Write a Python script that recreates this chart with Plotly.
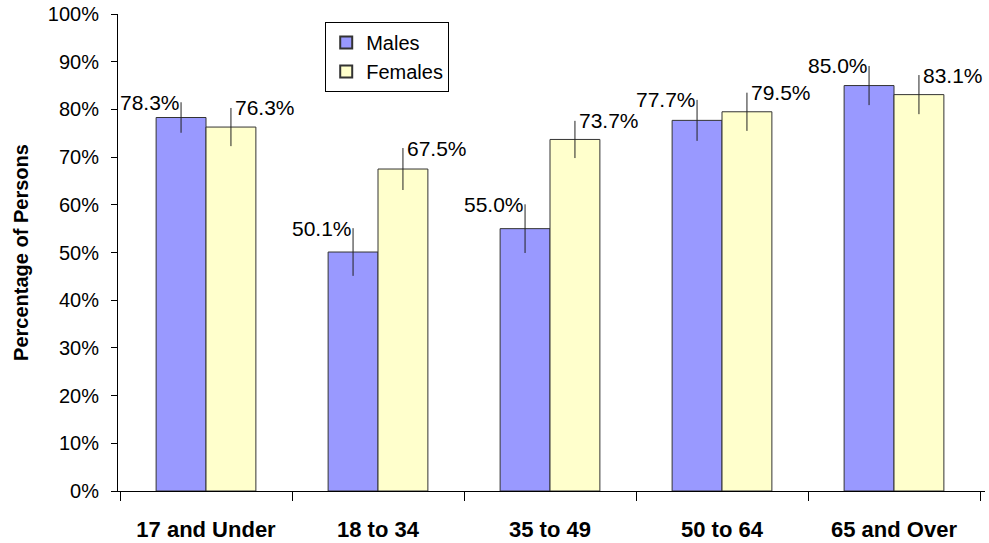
import plotly.graph_objects as go

categories = ["17 and Under", "18 to 34", "35 to 49", "50 to 64", "65 and Over"]
males = [78.3, 50.1, 55.0, 77.7, 85.0]
females = [76.3, 67.5, 73.7, 79.5, 83.1]
males_err = [3.2, 5.0, 5.1, 4.3, 4.1]
females_err = [4.0, 4.4, 3.9, 4.0, 4.1]
y_ticks = [0, 10, 20, 30, 40, 50, 60, 70, 80, 90, 100]
y_ticktext = [f"{v}%" for v in y_ticks]

FONT = "Liberation Sans, Arial, sans-serif"
MALE_COLOR = "#9999FF"
FEMALE_COLOR = "#FFFFCC"
EDGE = "#333333"

fig = go.Figure()
fig.add_trace(go.Bar(
    name="Males", x=categories, y=males, showlegend=False,
    marker=dict(color=MALE_COLOR, line=dict(color=EDGE, width=1)),
    error_y=dict(type="data", array=males_err, visible=True, color="#222222", thickness=1, width=0),
))
fig.add_trace(go.Bar(
    name="Females", x=categories, y=females, showlegend=False,
    marker=dict(color=FEMALE_COLOR, line=dict(color=EDGE, width=1)),
    error_y=dict(type="data", array=females_err, visible=True, color="#222222", thickness=1, width=0),
))
# legend entries with larger square swatches
for name, col in [("Males", MALE_COLOR), ("Females", FEMALE_COLOR)]:
    fig.add_trace(go.Scatter(
        name=name, x=[categories[0]], y=[None], mode="markers",
        marker=dict(symbol="square", size=17, color=col, line=dict(color=EDGE, width=1)),
        hoverinfo="skip",
    ))

for c, v, e in zip(categories, males, males_err):
    fig.add_annotation(x=c, y=v + e, text=f"{v:.1f}%", showarrow=False,
                       xref="x", yref="y", xanchor="right", yanchor="middle",
                       xshift=-24, font=dict(family=FONT, size=21, color="#000"))
for c, v, e in zip(categories, females, females_err):
    fig.add_annotation(x=c, y=v + e, text=f"{v:.1f}%", showarrow=False,
                       xref="x", yref="y", xanchor="left", yanchor="middle",
                       xshift=27, font=dict(family=FONT, size=21, color="#000"))

fig.update_layout(
    width=989, height=543,
    margin=dict(l=118, r=4, t=14, b=52, autoexpand=False),
    paper_bgcolor="white", plot_bgcolor="white",
    barmode="group", bargap=0.42, bargroupgap=0,
    font=dict(family=FONT, size=20, color="#000"),
    legend=dict(x=0.239, y=0.983, xanchor="left", yanchor="top",
                bordercolor="#000", borderwidth=1, bgcolor="white",
                font=dict(family=FONT, size=20), itemsizing="constant",
                itemwidth=30),
    showlegend=True,
)
fig.update_xaxes(
    showline=True, linecolor="#000", linewidth=1,
    ticks="outside", tickson="boundaries", ticklen=9, tickcolor="#000",
    tickfont=dict(family=FONT, size=22, weight="bold"),
    ticklabelstandoff=19,
)
fig.update_yaxes(
    range=[0, 100], tickvals=y_ticks, ticktext=y_ticktext,
    showline=True, linecolor="#000", linewidth=1, showgrid=False,
    ticks="outside", ticklen=6, tickcolor="#000",
    tickfont=dict(family=FONT, size=20),
    ticklabelstandoff=8, zeroline=False, ticklabeloverflow="allow",
    title=dict(text="Percentage of Persons", font=dict(family=FONT, size=20, weight="bold"), standoff=13),
)

fig.write_html("out.html", config={"displayModeBar": False},
               post_script="document.body.style.margin='0';document.body.style.overflow='hidden';")
